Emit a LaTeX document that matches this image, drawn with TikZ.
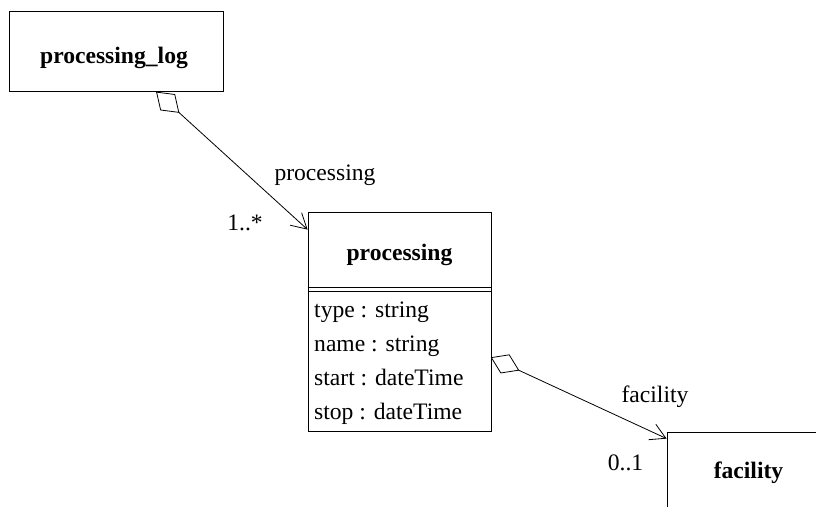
\documentclass[tikz,border=0pt]{standalone}
\usepackage{fontspec}
\setmainfont{Liberation Serif}
\usetikzlibrary{arrows.meta,calc}
\newcommand\umlfont{\fontsize{23.6}{28}\selectfont}
\begin{document}
\begin{tikzpicture}[x=1pt,y=-1pt,
  every node/.style={inner sep=0pt, font=\umlfont},
  box/.style={draw, line width=0.8pt},
  title/.style={anchor=base, font=\umlfont\bfseries},
  attr/.style={anchor=base west},
  lbl/.style={anchor=base},
  assoc/.style={draw, line width=0.8pt, -{Straight Barb[length=15pt,width=17pt,line width=0.8pt]}},
  agg/.style={draw, line width=0.8pt, fill=white, line join=miter}]
\clip (0,0) rectangle (816,506);
\fill[white] (0,0) rectangle (816,506);

% class boxes
\node[box, minimum width=214pt, minimum height=80pt] (plog) at (116,51.75) {};
\node[title] (plogname) at (114,63) {processing\_log};

\node[box, minimum width=183pt, minimum height=219pt] (proc) at (399.5,321.5) {};
\node[title] (procname) at (399.5,260) {processing};
\draw[line width=0.8pt] ($(proc.north west)+(0,76)$) -- ($(proc.north east)+(0,76)$);
\draw[line width=0.8pt] ($(proc.north west)+(0,79.5)$) -- ($(proc.north east)+(0,79.5)$);
\node[attr] (at1) at (314,317) {type : string};
\node[attr] (at2) at (314,351) {name : string};
\node[attr] (at3) at (314,385) {start : dateTime};
\node[attr] (at4) at (314,419) {stop : dateTime};

\node[box, minimum width=163pt, minimum height=80pt] (fac) at (748.5,472) {};
\node[title] (facname) at (748.5,478) {facility};

% association ends
\coordinate (a1) at ($(plog.south west)+(148,0)$);
\coordinate (t1) at ($(proc.north west)+(0,18)$);
\coordinate (a2) at ($(proc.north east)+(0,146)$);
\coordinate (t2) at ($(fac.north west)+(0,7)$);

% associations with aggregation diamonds
\draw[assoc] (a1) -- (t1);
\filldraw[agg] (a1) -- ($(a1)!15pt!(t1)!10.5pt!90:(t1)$) -- ($(a1)!30pt!(t1)$)
  -- ($(a1)!15pt!(t1)!10.5pt!-90:(t1)$) -- cycle;
\draw[assoc] (a2) -- (t2);
\filldraw[agg] (a2) -- ($(a2)!15pt!(t2)!10pt!90:(t2)$) -- ($(a2)!30pt!(t2)$)
  -- ($(a2)!15pt!(t2)!10pt!-90:(t2)$) -- cycle;

% role names and multiplicities
\node[lbl] (r1) at (325,180) {processing};
\node[lbl] (m1) at (245,230) {1..*};
\node[lbl] (r2) at (655,402) {facility};
\node[lbl] (m2) at (625.5,470) {0..1};
\end{tikzpicture}
\end{document}
